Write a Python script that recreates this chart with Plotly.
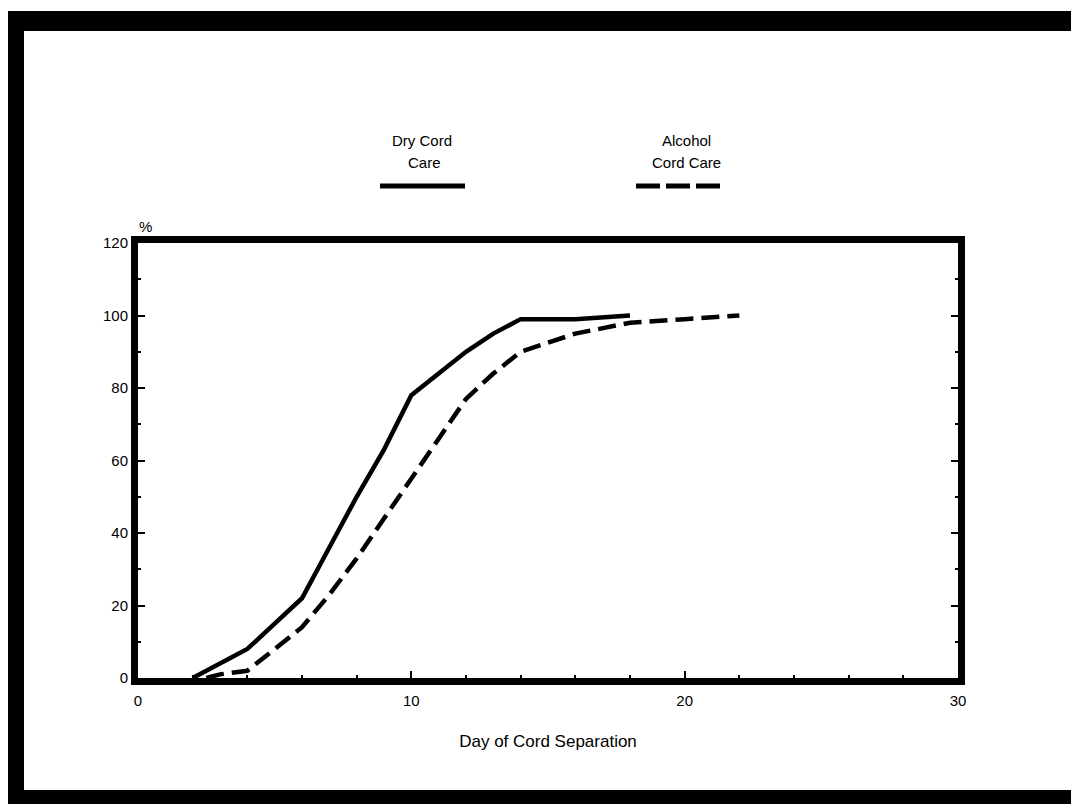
import plotly.graph_objects as go

# ---- data ----
dry_day = [2, 3, 4, 5, 6, 7, 8, 9, 10, 11, 12, 13, 14, 16, 18]
dry_pct = [0, 4, 8, 15, 22, 36, 50, 63, 78, 84, 90, 95, 99, 99, 100]

alc_day = [2.5, 3, 4, 5, 6, 7, 8, 9, 10, 11, 12, 13, 14, 16, 18, 20, 22]
alc_pct = [0, 1, 2, 8, 14, 23, 33, 44, 55, 66, 77, 84, 90, 95, 98, 99, 100]

x_ticks = [0, 10, 20, 30]
y_ticks = [0, 20, 40, 60, 80, 100, 120]

PAGE_W, PAGE_H = 1079, 804
OFF = 8  # default body margin of the html page
W, H = PAGE_W - OFF, PAGE_H - OFF
L, R, T, B = 138, 958, 243, 678  # plot area in page pixels


def px(x):
    return (x - L) / (R - L)


def py(y):
    return (B - y) / (B - T)


FONT = "Liberation Sans Narrow, Arial Narrow, Liberation Sans, Arial, sans-serif"

fig = go.Figure()
fig.add_trace(go.Scatter(x=dry_day, y=dry_pct, mode="lines", name="Dry Cord Care",
                         line=dict(color="black", width=4.5), showlegend=False))
fig.add_trace(go.Scatter(x=alc_day, y=alc_pct, mode="lines", name="Alcohol Cord Care",
                         line=dict(color="black", width=4.5, dash="18px,8px"), showlegend=False))

shapes = []
# outer scanned frame (page pixels)
for (x0, y0, x1, y1) in [(8, 11, 1079, 31), (8, 11, 24, 804), (1073, 11, 1079, 792), (8, 790, 1079, 804)]:
    shapes.append(dict(type="rect", xref="paper", yref="paper", x0=px(x0), x1=px(x1),
                       y0=py(y1), y1=py(y0), fillcolor="black", line=dict(width=0), layer="below"))
# legend samples
shapes.append(dict(type="line", xref="paper", yref="paper", x0=px(380), x1=px(465),
                   y0=py(186), y1=py(186), line=dict(color="black", width=5)))
shapes.append(dict(type="line", xref="paper", yref="paper", x0=px(636), x1=px(722),
                   y0=py(186), y1=py(186), line=dict(color="black", width=5, dash="24px,6px")))


def label(text, x, y, size=15):
    return dict(text=text, x=px(x), y=py(y), xref="paper", yref="paper",
                showarrow=False, font=dict(size=size, family=FONT, color="black"),
                xanchor="center", yanchor="middle")


annotations = [
    label("Dry Cord", 422, 140),
    label("Care", 424, 162),
    label("Alcohol", 686, 140),
    label("Cord Care", 686, 162),
    label("%", 145, 226),
]

fig.update_layout(
    width=W, height=H,
    margin=dict(l=L - OFF, r=PAGE_W - R, t=T - OFF, b=PAGE_H - B, pad=0),
    paper_bgcolor="white", plot_bgcolor="white",
    font=dict(family=FONT, color="black", size=15),
    shapes=shapes, annotations=annotations,
    xaxis=dict(range=[0, 30], tickvals=x_ticks, ticktext=[str(v) for v in x_ticks],
               showline=True, linecolor="black", linewidth=7, mirror=True,
               ticks="inside", ticklen=7, tickwidth=2, tickcolor="black",
               minor=dict(ticks="inside", dtick=2, ticklen=3, tickwidth=1.5, tickcolor="black"),
               showgrid=False, zeroline=False, tickfont=dict(size=15), ticklabelstandoff=3,
               title=dict(text="Day of Cord Separation", font=dict(size=17), standoff=30)),
    yaxis=dict(range=[0, 120], tickvals=y_ticks, ticktext=[str(v) for v in y_ticks],
               showline=True, linecolor="black", linewidth=7, mirror="ticks",
               ticks="inside", ticklen=7, tickwidth=2, tickcolor="black",
               minor=dict(ticks="inside", dtick=10, ticklen=3, tickwidth=1.5, tickcolor="black"),
               showgrid=False, zeroline=False, tickfont=dict(size=15)),
)

fig.write_html("out.html")
